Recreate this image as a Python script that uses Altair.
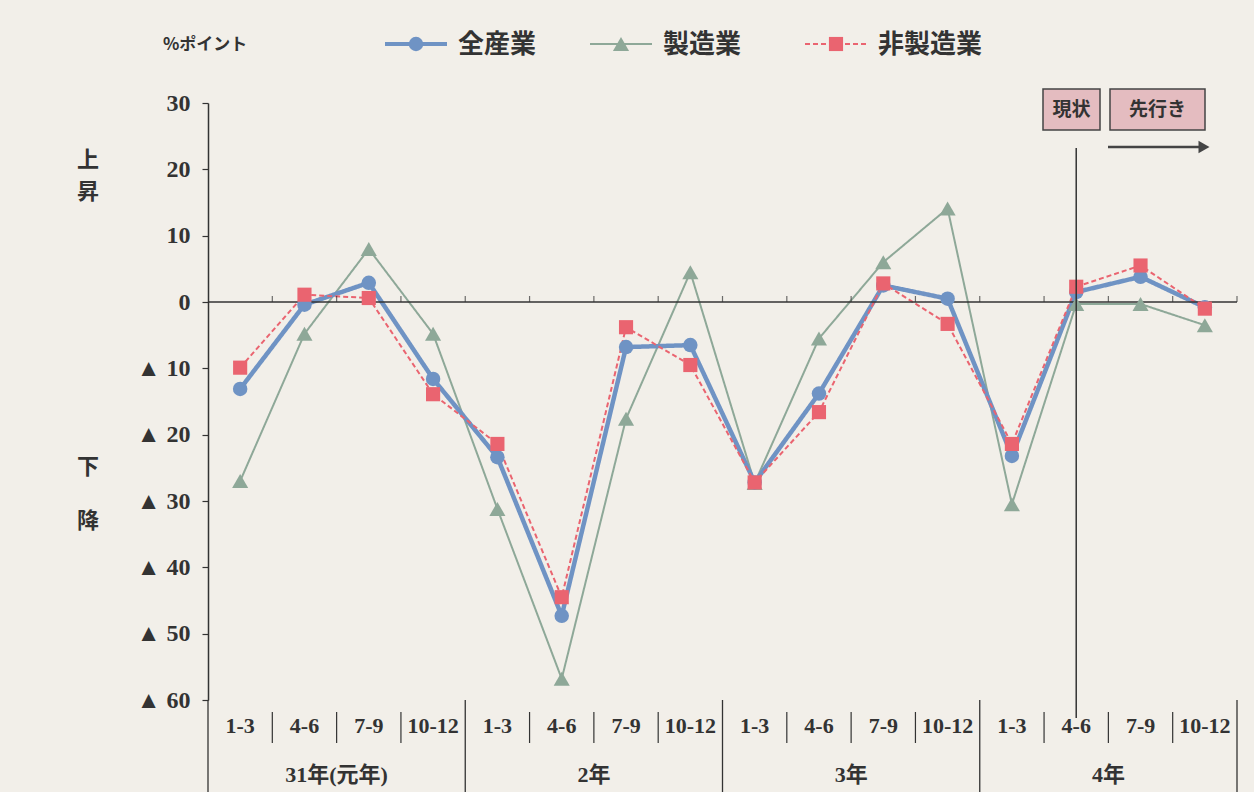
import altair as alt
import pandas as pd

# ---------------- data ----------------
quarters = ["1-3", "4-6", "7-9", "10-12"] * 4
years = ["31年(元年)", "2年", "3年", "4年"]
series_names = ["全産業", "製造業", "非製造業"]
all_industries = [-13.1, -0.4, 2.9, -11.6, -23.4, -47.3, -6.8, -6.5, -27.2, -13.8, 2.5, 0.5, -23.2, 1.5, 3.8, -0.8]
manufacturing = [-27.0, -4.8, 8.0, -4.8, -31.2, -56.8, -17.6, 4.5, -27.3, -5.5, 6.0, 14.1, -30.5, -0.3, -0.3, -3.5]
non_manufacturing = [-9.9, 1.1, 0.6, -13.9, -21.4, -44.5, -3.8, -9.5, -27.2, -16.6, 2.8, -3.3, -21.4, 2.3, 5.5, -1.0]
y_ticks = [30, 20, 10, 0, -10, -20, -30, -40, -50, -60]
current_index = 13  # 4年 4-6

# ---------------- layout ----------------
W, H = 1029, 597
BG = "#f2efe9"
INK = "#333333"
SERIF = "Liberation Serif, Noto Sans CJK JP"
SANS = "Noto Sans CJK JP"

styles = {
    "全産業": dict(color="#6f93c4", width=4.5, dash=[1, 0], shape="circle", size=210),
    "製造業": dict(color="#8ea898", width=2, dash=[1, 0], shape="triangle-up", size=260),
    "非製造業": dict(color="#ea6470", width=2, dash=[5, 3], shape="square", size=200),
}
legend_pos = {"全産業": 177, "製造業": 382, "非製造業": 597}

values = {"全産業": all_industries, "製造業": manufacturing, "非製造業": non_manufacturing}
n = len(quarters)
rows = []
for s in series_names:
    for i in range(n):
        rows.append({"series": s, "i": i, "v": values[s][i]})
df = pd.DataFrame(rows)

xs = alt.Scale(domain=[-0.5, n - 0.5], nice=False, zero=False)
ys = alt.Scale(domain=[-60, 30], nice=False, zero=False)
YAXIS = alt.Axis(
    values=y_ticks, title=None, grid=False, tickSize=6, tickColor=INK, tickWidth=1.2,
    domainColor=INK, domainWidth=1.5, labelPadding=12,
    labelFont="Liberation Serif", labelFontSize=24, labelFontWeight="bold",
    labelColor=INK,
    labelExpr="datum.value < 0 ? '▲ ' + (-datum.value) : '' + datum.value")
X = alt.X("i:Q", scale=xs, axis=None)
Y = alt.Y("v:Q", scale=ys, axis=YAXIS)

one = pd.DataFrame({"k": [0]})
layers = []

# series lines (drawn: 製造業, 全産業, 非製造業)
for s in ["製造業", "全産業", "非製造業"]:
    st = styles[s]
    base = alt.Chart(df[df.series == s])
    layers.append(base.mark_line(color=st["color"], strokeWidth=st["width"], strokeDash=st["dash"]).encode(x=X, y=Y))

# zero line
zdf = pd.DataFrame({"v": [0]})
layers.append(alt.Chart(zdf).mark_rule(color=INK, strokeWidth=1.5).encode(
    x=alt.value(0), x2=alt.value(W), y=Y))
# small ticks on zero line at quarter boundaries
bnd = pd.DataFrame({"b": [k + 0.5 for k in range(n)], "v": [0] * n})
layers.append(alt.Chart(bnd).mark_tick(orient="vertical", color=INK, size=6, thickness=1.2, yOffset=-3).encode(
    x=alt.X("b:Q", scale=xs, axis=None), y=Y))

# markers
for s in ["製造業", "全産業", "非製造業"]:
    st = styles[s]
    base = alt.Chart(df[df.series == s])
    layers.append(base.mark_point(shape=st["shape"], filled=True, opacity=1, color=st["color"], size=st["size"]).encode(x=X, y=Y))

# current-position vertical line
layers.append(alt.Chart(one).mark_rule(color=INK, strokeWidth=1.5).encode(
    x=alt.X(datum=current_index, scale=xs, axis=None), y=alt.value(45), y2=alt.value(615)))

# boxes 現状 / 先行き
for (x1, x2, label) in [(835, 892, "現状"), (902, 997, "先行き")]:
    layers.append(alt.Chart(one).mark_rect(fill="#e4bcc0", stroke="#444444", strokeWidth=1.5).encode(
        x=alt.value(x1), x2=alt.value(x2), y=alt.value(-14), y2=alt.value(27)))
    layers.append(alt.Chart(one).mark_text(text=label, font=SANS, fontSize=19, fontWeight="bold", color=INK,
                                           align="center", baseline="middle").encode(
        x=alt.value((x1 + x2) / 2), y=alt.value(7)))
# arrow
layers.append(alt.Chart(one).mark_rule(color="#444444", strokeWidth=2.5).encode(
    x=alt.value(900), x2=alt.value(992), y=alt.value(44)))
layers.append(alt.Chart(one).mark_point(shape="triangle-right", filled=True, opacity=1, color="#444444", size=160).encode(
    x=alt.value(996), y=alt.value(44)))

# legend (manual)
for s in series_names:
    st = styles[s]
    x0 = legend_pos[s]
    layers.append(alt.Chart(one).mark_rule(color=st["color"], strokeWidth=max(st["width"] - 0.5, 2), strokeDash=st["dash"]).encode(
        x=alt.value(x0), x2=alt.value(x0 + 62), y=alt.value(-59)))
    layers.append(alt.Chart(one).mark_point(shape=st["shape"], filled=True, opacity=1, color=st["color"], size=st["size"]).encode(
        x=alt.value(x0 + 31), y=alt.value(-59)))
    layers.append(alt.Chart(one).mark_text(text=s, font=SANS, fontSize=26, fontWeight="bold", color=INK,
                                           align="left", baseline="middle").encode(
        x=alt.value(x0 + 73), y=alt.value(-58)))

# unit and side labels
layers.append(alt.Chart(one).mark_text(text="%ポイント", font=SANS, fontSize=17, fontWeight="bold", color=INK,
                                       align="left", baseline="middle").encode(x=alt.value(-45), y=alt.value(-58)))
for (ch, yy) in [("上", 57), ("昇", 89), ("下", 364), ("降", 418)]:
    layers.append(alt.Chart(one).mark_text(text=ch, font=SANS, fontSize=22, fontWeight="bold", color=INK,
                                           align="center", baseline="middle").encode(x=alt.value(-120), y=alt.value(yy)))

# x category labels
qdf = pd.DataFrame({"i": list(range(n)), "q": quarters})
layers.append(alt.Chart(qdf).mark_text(font="Liberation Serif", fontSize=22, fontWeight="bold", color=INK,
                                       baseline="middle").encode(x=X, y=alt.value(623), text="q:N"))
ydf = pd.DataFrame({"i": [k * 4 + 1.5 for k in range(len(years))], "yr": years})
layers.append(alt.Chart(ydf).mark_text(font=SERIF, fontSize=22, fontWeight="bold", color=INK,
                                       baseline="middle").encode(x=X, y=alt.value(672), text="yr:N"))
# separators
qsep = pd.DataFrame({"b": [k + 0.5 for k in range(n - 1) if (k + 1) % 4 != 0]})
layers.append(alt.Chart(qsep).mark_rule(color=INK, strokeWidth=1.2).encode(
    x=alt.X("b:Q", scale=xs, axis=None), y=alt.value(609), y2=alt.value(640)))
ysep = pd.DataFrame({"b": [k * 4 - 0.5 for k in range(len(years) + 1)]})
layers.append(alt.Chart(ysep).mark_rule(color=INK, strokeWidth=1.3).encode(
    x=alt.X("b:Q", scale=xs, axis=None), y=alt.value(597), y2=alt.value(692)))

chart = alt.layer(*layers).properties(
    width=W, height=H,
    autosize=alt.AutoSizeParams(type="none"),
    padding={"left": 208, "top": 103, "right": 17, "bottom": 92},
    background=BG,
).configure_view(stroke=None)

chart.save("out.html", embed_options={"renderer": "svg", "actions": False})
